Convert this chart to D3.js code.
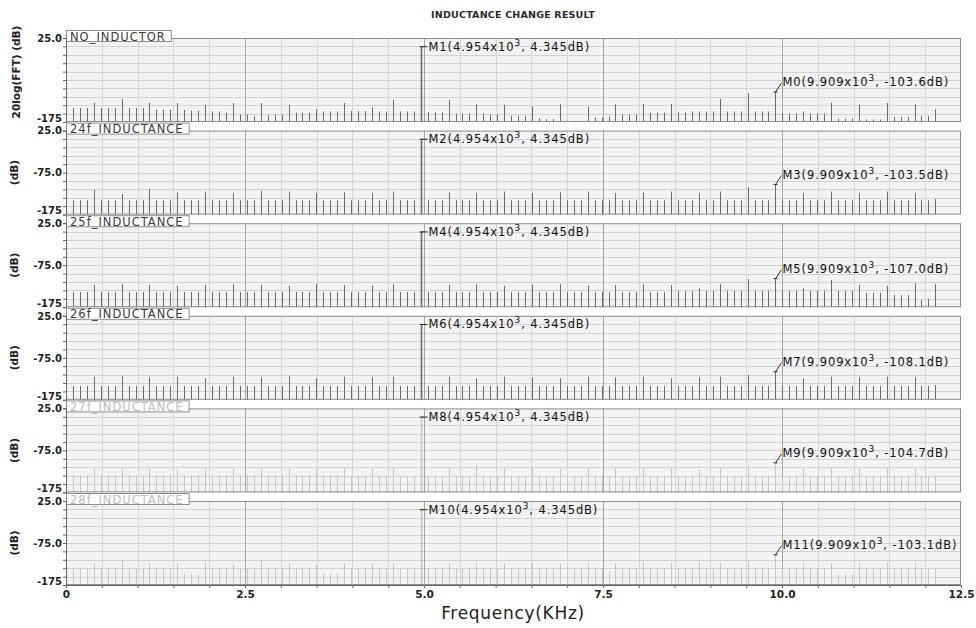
<!DOCTYPE html>
<html>
<head>
<meta charset="utf-8">
<script src="https://cdn.jsdelivr.net/npm/d3@7"></script>
<style>
body { margin: 0; background: #fff; }
svg { display: block; font-family: 'DejaVu Sans', sans-serif; }
</style>
</head>
<body>
<svg width="976" height="628"></svg>
<script>
// FFT bins (kHz)
const freqs = [
    0.097, 0.194, 0.291, 0.389, 0.486, 0.583, 0.680, 0.777, 0.874, 0.971,
    1.069, 1.166, 1.263, 1.360, 1.457, 1.554, 1.651, 1.749, 1.846, 1.943,
    2.040, 2.137, 2.234, 2.331, 2.429, 2.526, 2.623, 2.720, 2.817, 2.914,
    3.011, 3.108, 3.206, 3.303, 3.400, 3.497, 3.594, 3.691, 3.788, 3.886,
    3.983, 4.080, 4.177, 4.274, 4.371, 4.468, 4.566, 4.663, 4.760, 4.857,
    4.954, 5.051, 5.148, 5.246, 5.343, 5.440, 5.537, 5.634, 5.731, 5.828,
    5.926, 6.023, 6.120, 6.217, 6.314, 6.411, 6.508, 6.606, 6.703, 6.800,
    6.897, 6.994, 7.091, 7.188, 7.286, 7.383, 7.480, 7.577, 7.674, 7.771,
    7.868, 7.965, 8.063, 8.160, 8.257, 8.354, 8.451, 8.548, 8.645, 8.743,
    8.840, 8.937, 9.034, 9.131, 9.228, 9.325, 9.423, 9.520, 9.617, 9.714,
    9.811, 9.909, 10.005, 10.103, 10.200, 10.297, 10.394, 10.491, 10.588, 10.685,
    10.783, 10.880, 10.977, 11.074, 11.171, 11.268, 11.365, 11.463, 11.560, 11.657,
    11.754, 11.851, 11.948, 12.045, 12.143
];

const panelNames = ['NO_INDUCTOR', '24f_INDUCTANCE', '25f_INDUCTANCE', '26f_INDUCTANCE', '27f_INDUCTANCE', '28f_INDUCTANCE'];
const panelFaded = [false, false, false, false, true, true];

// 20log(FFT) in dB per bin
const noInductor = [
    -142, -142, -142, -129, -142, -142, -142, -120, -142, -142,
    -142, -129, -146, -146, -146, -130, -146, -148, -148, -135,
    -150, -150, -153, -130, -157, -157, -161, -130, -159, -157,
    -157, -135, -153, -153, -153, -145, -150, -150, -150, -130,
    -149, -149, -149, -140, -150, -150, -122, -150, -150, -150,
    4.345, -152, -152, -152, -123, -155, -155, -155, -133, -155,
    -157, -157, -134, -160, -160, -160, -138, -166, -168, -168,
    -133, -172, -172, -172, -138, -165, -165, -162, -133, -157,
    -157, -157, -132, -153, -153, -153, -132, -152, -152, -150,
    -150, -150, -150, -120, -150, -150, -150, -106, -150, -150,
    -150, -103.6, -155, -155, -155, -150, -155, -155, -155, -129,
    -167, -167, -167, -134, -169, -169, -169, -130, -163, -163,
    -163, -133, -161, -161, -145
];
const ind24f = [
    -141, -141, -141, -116, -141, -141, -141, -126, -141, -141,
    -141, -114, -141, -141, -141, -122, -141, -141, -141, -120,
    -141, -141, -141, -124, -141, -141, -141, -118, -141, -141,
    -141, -120, -141, -141, -141, -124, -141, -141, -141, -122,
    -141, -141, -141, -124, -141, -141, -120, -141, -141, -141,
    4.345, -141, -141, -141, -122, -141, -141, -141, -124, -141,
    -141, -141, -120, -141, -141, -141, -124, -141, -141, -141,
    -122, -141, -141, -141, -120, -141, -141, -141, -124, -141,
    -141, -141, -122, -141, -141, -141, -120, -141, -141, -141,
    -124, -141, -141, -120, -141, -141, -141, -110, -141, -141,
    -141, -103.5, -141, -141, -141, -124, -141, -141, -141, -120,
    -141, -141, -141, -124, -141, -141, -141, -120, -141, -141,
    -141, -124, -141, -141, -138
];
const ind25f = [
    -139, -139, -139, -122, -139, -139, -139, -120, -139, -139,
    -139, -122, -139, -139, -139, -124, -139, -139, -139, -122,
    -139, -139, -139, -120, -139, -139, -139, -122, -139, -139,
    -139, -124, -139, -139, -139, -120, -139, -139, -139, -122,
    -139, -139, -139, -124, -139, -139, -120, -139, -139, -139,
    4.345, -139, -139, -139, -122, -139, -139, -139, -120, -139,
    -139, -139, -124, -139, -139, -139, -122, -139, -139, -139,
    -120, -139, -139, -139, -124, -139, -139, -139, -122, -139,
    -139, -139, -120, -139, -139, -139, -122, -137, -137, -137,
    -130, -136, -136, -120, -136, -136, -136, -108, -136, -136,
    -136, -107.0, -136, -136, -136, -130, -136, -136, -136, -110,
    -136, -136, -136, -122, -141, -141, -141, -124, -146, -146,
    -146, -118, -159, -155, -120
];
const ind26f = [
    -142, -142, -142, -120, -142, -142, -142, -118, -142, -142,
    -142, -122, -142, -142, -142, -120, -142, -142, -142, -124,
    -142, -142, -142, -120, -142, -142, -142, -122, -142, -142,
    -142, -118, -142, -142, -142, -124, -142, -142, -142, -120,
    -142, -142, -142, -122, -142, -142, -120, -142, -142, -142,
    4.345, -142, -142, -142, -120, -142, -142, -142, -124, -142,
    -142, -142, -120, -142, -142, -142, -122, -142, -142, -142,
    -124, -142, -142, -142, -120, -142, -142, -142, -122, -142,
    -142, -142, -120, -142, -142, -142, -124, -142, -142, -142,
    -122, -142, -142, -120, -142, -142, -142, -116, -142, -142,
    -142, -108.1, -142, -142, -142, -124, -142, -142, -142, -120,
    -142, -142, -142, -122, -142, -142, -142, -120, -142, -142,
    -142, -122, -142, -142, -140
];
const ind27f = [
    -134, -134, -134, -118, -134, -134, -134, -116, -134, -134,
    -134, -118, -134, -134, -134, -120, -134, -134, -134, -116,
    -134, -134, -134, -118, -134, -134, -134, -116, -134, -134,
    -134, -118, -134, -134, -134, -120, -134, -134, -134, -116,
    -136, -136, -136, -118, -136, -136, -116, -137, -137, -137,
    4.345, -137, -137, -137, -116, -137, -137, -137, -110, -137,
    -137, -137, -118, -137, -137, -137, -116, -137, -137, -137,
    -120, -137, -137, -137, -116, -137, -137, -137, -118, -137,
    -137, -137, -116, -137, -137, -137, -118, -137, -137, -137,
    -120, -137, -137, -116, -137, -137, -137, -112, -137, -137,
    -137, -104.7, -137, -137, -137, -118, -137, -137, -137, -116,
    -137, -137, -137, -118, -137, -137, -137, -116, -137, -137,
    -137, -118, -137, -137, -135
];
const ind28f = [
    -137, -137, -137, -124, -137, -137, -137, -114, -137, -137,
    -137, -124, -137, -137, -137, -124, -148, -150, -150, -120,
    -137, -137, -137, -126, -137, -137, -137, -116, -137, -137,
    -137, -124, -137, -137, -137, -128, -147, -147, -147, -124,
    -137, -137, -137, -124, -137, -137, -124, -137, -137, -137,
    4.345, -137, -137, -137, -124, -137, -137, -137, -122, -137,
    -137, -137, -124, -137, -137, -137, -122, -137, -137, -137,
    -124, -137, -137, -137, -122, -137, -137, -142, -124, -137,
    -137, -137, -120, -137, -137, -137, -122, -137, -137, -137,
    -120, -137, -137, -122, -137, -137, -137, -118, -137, -137,
    -137, -103.1, -137, -137, -137, -122, -137, -137, -137, -124,
    -150, -150, -150, -122, -137, -137, -137, -120, -137, -137,
    -137, -122, -137, -137, -137
];
const panelSeries = [noInductor, ind24f, ind25f, ind26f, ind27f, ind28f];

// markers: fundamental and 2nd harmonic
const markerNames = [['M1', 'M0'], ['M2', 'M3'], ['M4', 'M5'], ['M6', 'M7'], ['M8', 'M9'], ['M10', 'M11']];
const markerFreqs = [4.954, 9.909];
const markerValues = [[4.345, -103.6], [4.345, -103.5], [4.345, -107.0], [4.345, -108.1], [4.345, -104.7], [4.345, -103.1]];

const yTicks = [25, 5, -15, -35, -55, -75, -95, -115, -135, -155, -175];
const yLabelTicks = [25, -75, -175];
const xTicks = [0, 0.5, 1, 1.5, 2, 2.5, 3, 3.5, 4, 4.5, 5, 5.5, 6, 6.5, 7, 7.5, 8, 8.5, 9, 9.5, 10, 10.5, 11, 11.5, 12, 12.5];
const xLabelTicks = [0, 2.5, 5, 7.5, 10, 12.5];

const svg = d3.select('svg');
const PLOT_LEFT = 66, PLOT_RIGHT = 961;
const PANEL_TOP = 38, PANEL_H = 84, PANEL_STEP = 92.6;
const x = d3.scaleLinear().domain([0, 12.5]).range([PLOT_LEFT, PLOT_RIGHT]);

svg.append('text')
    .attr('x', 513).attr('y', 18)
    .attr('text-anchor', 'middle')
    .attr('font-size', 9.5).attr('font-weight', 'bold')
    .attr('letter-spacing', 0.2)
    .attr('fill', '#2a2a2a')
    .text('INDUCTANCE CHANGE RESULT');

function fmtVal(v) {
    return Math.abs(v) < 10 ? v.toFixed(3) : v.toFixed(1);
}

function draw_panel(i) {
    const top = PANEL_TOP + i * PANEL_STEP;
    const bottom = top + PANEL_H;
    const y = d3.scaleLinear().domain([-175, 25]).range([bottom, top]);
    const faded = panelFaded[i];
    const lineColor = faded ? '#c6c6c6' : '#6a6a6a';
    const g = svg.append('g');

    g.append('rect')
        .attr('x', PLOT_LEFT).attr('y', top)
        .attr('width', PLOT_RIGHT - PLOT_LEFT).attr('height', PANEL_H)
        .attr('fill', '#f3f3f3');

    // grid
    g.append('g').selectAll('line')
        .data(yTicks.slice(1, -1))
        .join('line')
        .attr('x1', PLOT_LEFT).attr('x2', PLOT_RIGHT)
        .attr('y1', d => Math.round(y(d)) + 0.5)
        .attr('y2', d => Math.round(y(d)) + 0.5)
        .attr('stroke', '#d2d2d2');
    g.append('g').selectAll('line')
        .data(xTicks.slice(1, -1))
        .join('line')
        .attr('x1', d => Math.round(x(d)) + 0.5)
        .attr('x2', d => Math.round(x(d)) + 0.5)
        .attr('y1', top).attr('y2', bottom)
        .attr('stroke', d => xLabelTicks.includes(d) ? '#a4a4a4' : '#d6d6d6');

    // spikes
    const data = freqs.map((f, k) => ({ f: f, v: panelSeries[i][k] }));
    g.append('g').selectAll('line')
        .data(data)
        .join('line')
        .attr('x1', d => Math.round(x(d.f)) + 0.5)
        .attr('x2', d => Math.round(x(d.f)) + 0.5)
        .attr('y1', y(-175))
        .attr('y2', d => y(d.v))
        .attr('stroke', lineColor)
        .attr('stroke-width', d => d.v > 0 ? 1.6 : 1);

    // frame
    g.append('rect')
        .attr('x', PLOT_LEFT + 0.5).attr('y', top + 0.5)
        .attr('width', PLOT_RIGHT - PLOT_LEFT - 1).attr('height', PANEL_H - 1)
        .attr('fill', 'none')
        .attr('stroke', '#8e8e8e');

    // name tab
    const tab = g.append('g');
    const tabRect = tab.append('rect')
        .attr('x', PLOT_LEFT + 0.5).attr('y', top - 7.5)
        .attr('height', 11)
        .attr('fill', '#fff')
        .attr('stroke', '#8e8e8e');
    const tabText = tab.append('text')
        .attr('x', PLOT_LEFT + 4).attr('y', top + 2.5)
        .attr('font-size', 11.5)
        .attr('letter-spacing', 1)
        .attr('fill', faded ? '#bdbdbd' : '#3a3a3a')
        .text(panelNames[i]);
    tabRect.attr('width', tabText.node().getComputedTextLength() + 9);

    // y axis
    const yAxis = d3.axisLeft(y)
        .tickValues(yTicks)
        .tickSize(3)
        .tickFormat(d => {
            if (!yLabelTicks.includes(d)) return '';
            if (i === 0 && d === -75) return '';
            return d === -175 ? '-175' : d.toFixed(1);
        });
    const ya = g.append('g')
        .attr('transform', 'translate(' + PLOT_LEFT + ',0)')
        .call(yAxis);
    ya.select('.domain').attr('stroke', '#666');
    ya.selectAll('.tick line').attr('stroke', '#666');
    ya.selectAll('.tick text')
        .attr('font-family', 'DejaVu Sans')
        .attr('font-size', 10)
        .attr('font-weight', 'bold')
        .attr('fill', '#222')
        .attr('x', -4)
        .attr('y', d => d === 25 ? 0 : (d === -175 ? -4 : 0));

    // y title
    g.append('text')
        .attr('transform', 'translate(' + (i === 0 ? 20 : 18) + ',' + (i === 0 ? 72 : y(-75)) + ') rotate(-90)')
        .attr('text-anchor', 'middle')
        .attr('font-size', 10.5)
        .attr('font-weight', 'bold')
        .attr('fill', '#222')
        .text(i === 0 ? '20log(FFT) (dB)' : '(dB)');

    // markers
    markerFreqs.forEach(function(f, m) {
        const v = markerValues[i][m];
        const px = Math.round(x(f)) + 0.5;
        const py = y(v);
        const nearTop = py - top < 15;
        const ly = nearTop ? py + 4 : py - 6;
        g.append('line')
            .attr('x1', px - 2).attr('x2', px + 2)
            .attr('y1', py).attr('y2', py)
            .attr('stroke', '#333');
        g.append('line')
            .attr('x1', px).attr('y1', py)
            .attr('x2', px + 6)
            .attr('y2', nearTop ? py : py - 9)
            .attr('stroke', '#333');
        const t = g.append('text')
            .attr('x', px + 7).attr('y', ly)
            .attr('font-size', 11.5)
            .attr('letter-spacing', 0.9)
            .attr('fill', '#111');
        t.append('tspan').text(markerNames[i][m] + '(' + f.toFixed(3) + 'x10');
        t.append('tspan').attr('dy', -5).attr('font-size', 9).text('3');
        t.append('tspan').attr('dy', 5).text(', ' + fmtVal(v) + 'dB)');
    });

    return y;
}

for (let i = 0; i < panelNames.length; ++i) {
    draw_panel(i);
}

// x axis under the last panel
const lastBottom = PANEL_TOP + 5 * PANEL_STEP + PANEL_H;
const xAxis = d3.axisBottom(x)
    .tickValues(xTicks)
    .tickSize(3)
    .tickFormat(d => xLabelTicks.includes(d) ? (d === 0 ? '0' : d.toFixed(1)) : '');
const xa = svg.append('g')
    .attr('transform', 'translate(0,' + lastBottom + ')')
    .call(xAxis);
xa.select('.domain').attr('stroke', '#666');
xa.selectAll('.tick line').attr('stroke', '#666');
xa.selectAll('.tick text')
    .attr('font-family', 'DejaVu Sans')
    .attr('font-size', 10.5)
    .attr('font-weight', 'bold')
    .attr('fill', '#222')
    .attr('y', 6);

svg.append('text')
    .attr('x', 513).attr('y', 619)
    .attr('text-anchor', 'middle')
    .attr('font-size', 17)
    .attr('letter-spacing', 0.7)
    .attr('fill', '#222')
    .text('Frequency(KHz)');
</script>
</body>
</html>
